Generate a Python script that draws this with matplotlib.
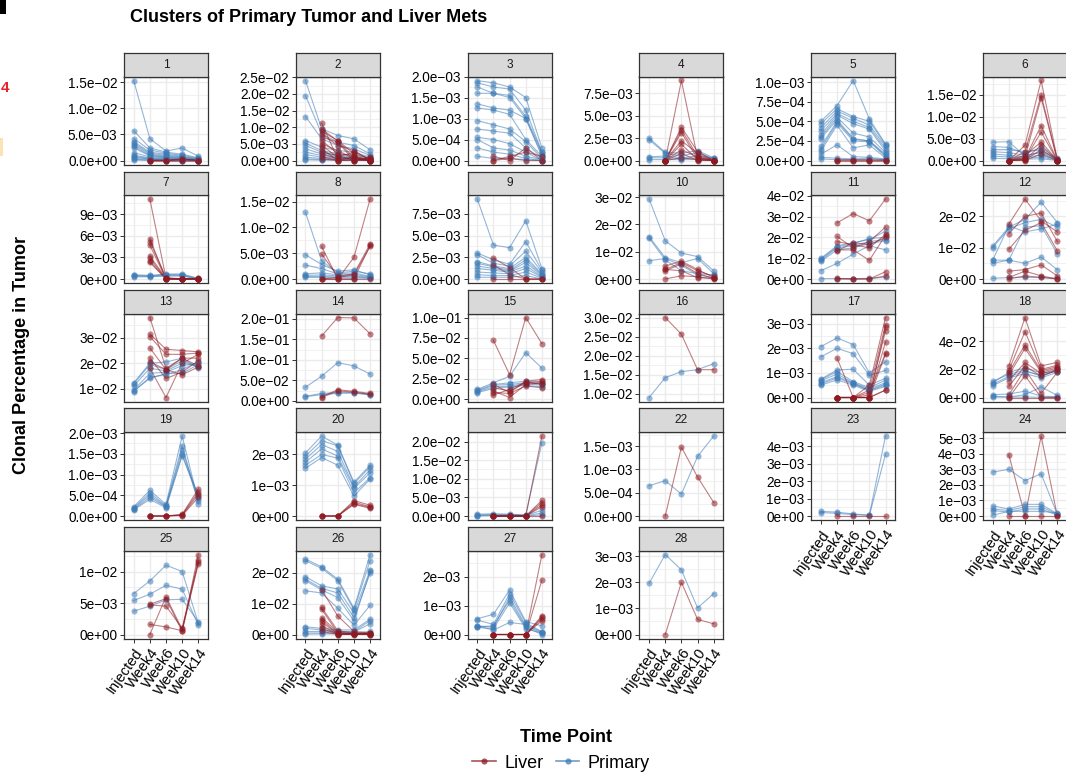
import numpy as np
import matplotlib
matplotlib.use("Agg")
import matplotlib.pyplot as plt
from matplotlib.lines import Line2D
from matplotlib.patches import Rectangle

plt.rcParams["font.family"] = ["Liberation Sans", "DejaVu Sans"]

N = np.nan

time_points = ["Injected", "Week4", "Week6", "Week10", "Week14"]
cluster_ids = [str(i) for i in range(1, 29)]
series_names = ["Liver", "Primary"]

# ---- clone trajectories per cluster (rows = clones, columns = time points) ----
primary_01 = [[0.0153, 0.0042, 0.0018, 0.0024, 0.0008], [0.0057, 0.0024, 0.0016, 0.0012, 0.0005],
              [0.0042, 0.0020, 0.0014, 0.0010, 0.0004], [0.0036, 0.0016, 0.0012, 0.0008, 0.0003],
              [0.0033, 0.0014, 0.0010, 0.0007, 0.0002], [0.0030, 0.0012, 0.0008, 0.0006, 0.0002],
              [0.0027, 0.0010, 0.0007, 0.0005, 0.0001], [0.0024, 0.0009, 0.0006, 0.0004, 0.0001],
              [0.0015, 0.0007, 0.0005, 0.0003, 0.0001], [0.0010, 0.0005, 0.0004, 0.0002, 0.0001],
              [0.0008, 0.0004, 0.0003, 0.0002, 0.0000], [0.0006, 0.0003, 0.0002, 0.0001, 0.0000],
              [0.0004, 0.0002, 0.0001, 0.0001, 0.0000], [0.0002, 0.0001, 0.0001, 0.0000, 0.0000],
              [0.0001, 0.0000, 0.0000, 0.0000, 0.0000]]
liver_01 = [[N, 0.0000, 0.0000, 0.0002, 0.0000], [N, 0.0000, 0.0001, 0.0003, 0.0000],
            [N, 0.0001, 0.0000, 0.0001, 0.0001], [N, 0.0000, 0.0000, 0.0000, 0.0000]]
ticks_01 = [0.0, 0.005, 0.01, 0.015]

primary_02 = [[0.0240, 0.0095, 0.0075, 0.0065, 0.0032], [0.0195, 0.0080, 0.0055, 0.0045, 0.0020],
              [0.0132, 0.0065, 0.0045, 0.0035, 0.0015], [0.0060, 0.0040, 0.0030, 0.0025, 0.0010],
              [0.0052, 0.0030, 0.0020, 0.0015, 0.0008], [0.0045, 0.0025, 0.0015, 0.0010, 0.0005],
              [0.0035, 0.0020, 0.0012, 0.0008, 0.0004], [0.0025, 0.0015, 0.0010, 0.0006, 0.0003],
              [0.0018, 0.0010, 0.0008, 0.0005, 0.0002], [0.0010, 0.0006, 0.0005, 0.0003, 0.0001],
              [0.0005, 0.0003, 0.0002, 0.0002, 0.0001], [0.0002, 0.0001, 0.0001, 0.0001, 0.0000]]
liver_02 = [[N, 0.0112, 0.0005, 0.0010, 0.0002], [N, 0.0095, 0.0058, 0.0008, 0.0000],
            [N, 0.0088, 0.0060, 0.0020, 0.0005], [N, 0.0080, 0.0045, 0.0030, 0.0000],
            [N, 0.0070, 0.0055, 0.0000, 0.0010], [N, 0.0060, 0.0020, 0.0015, 0.0000],
            [N, 0.0050, 0.0030, 0.0005, 0.0002], [N, 0.0045, 0.0010, 0.0025, 0.0005],
            [N, 0.0035, 0.0000, 0.0010, 0.0000], [N, 0.0025, 0.0015, 0.0000, 0.0008],
            [N, 0.0020, 0.0005, 0.0005, 0.0000], [N, 0.0012, 0.0000, 0.0002, 0.0001],
            [N, 0.0005, 0.0000, 0.0000, 0.0000]]
ticks_02 = [0.0, 0.005, 0.01, 0.015, 0.02, 0.025]

primary_03 = [[0.00190, 0.00185, 0.00175, 0.00150, 0.00030], [0.00185, 0.00175, 0.00170, 0.00120, 0.00020],
              [0.00175, 0.00160, 0.00150, 0.00100, 0.00010], [0.00160, 0.00160, 0.00155, 0.00105, 0.00020],
              [0.00135, 0.00125, 0.00120, 0.00100, 0.00015], [0.00125, 0.00120, 0.00110, 0.00050, 0.00010],
              [0.00095, 0.00085, 0.00075, 0.00045, 0.00005], [0.00075, 0.00070, 0.00065, 0.00030, 0.00005],
              [0.00055, 0.00050, 0.00040, 0.00020, 0.00000], [0.00050, 0.00030, 0.00025, 0.00010, 0.00002],
              [0.00030, 0.00020, 0.00015, 0.00005, 0.00000], [0.00010, 0.00005, 0.00005, 0.00002, 0.00000]]
liver_03 = [[N, 0.0000, 0.0001, 0.0002, 0.0001], [N, 0.0000, 0.00005, 0.0000, 0.0000],
            [N, 0.0001, 0.0000, 0.0003, 0.0000]]
ticks_03 = [0.0, 0.0005, 0.001, 0.0015, 0.002]

primary_04 = [[0.0025, 0.0009, 0.0008, 0.0011, 0.0003], [0.0023, 0.0008, 0.0005, 0.0009, 0.0002],
              [0.0004, 0.0005, 0.0003, 0.0005, 0.0003], [0.0003, 0.0003, 0.0002, 0.0003, 0.0001],
              [0.0001, 0.0001, 0.0001, 0.0001, 0.0000]]
liver_04 = [[N, 0.0, 0.0089, 0.0003, 0.0], [N, 0.0, 0.0037, 0.0010, 0.0], [N, 0.0, 0.0034, 0.0005, 0.0001],
            [N, 0.0, 0.0031, 0.0002, 0.0], [N, 0.0, 0.0022, 0.0008, 0.0], [N, 0.0, 0.0018, 0.0001, 0.0],
            [N, 0.0, 0.0012, 0.0004, 0.0], [N, 0.0, 0.0008, 0.0000, 0.0], [N, 0.0, 0.0003, 0.0001, 0.0]]
ticks_04 = [0.0, 0.0025, 0.005, 0.0075]

primary_05 = [[0.00050, 0.00070, 0.00102, 0.00053, 0.00021], [0.00047, 0.00066, 0.00056, 0.00050, 0.00020],
              [0.00042, 0.00063, 0.00054, 0.00045, 0.00018], [0.00038, 0.00060, 0.00050, 0.00042, 0.00015],
              [0.00033, 0.00058, 0.00047, 0.00040, 0.00012], [0.00030, 0.00055, 0.00035, 0.00030, 0.00010],
              [0.00028, 0.00052, 0.00028, 0.00025, 0.00008], [0.00018, 0.00050, 0.00027, 0.00025, 0.00006],
              [0.00015, 0.00048, 0.00025, 0.00024, 0.00005], [0.00012, 0.00045, 0.00016, 0.00020, 0.00003],
              [0.00008, 0.00020, 0.00005, 0.00004, 0.00002], [0.00004, 0.00003, 0.00002, 0.00003, 0.00001],
              [0.00002, 0.00001, 0.00001, 0.00001, 0.00000]]
liver_05 = [[N, 0.0, 0.0, 0.0, 0.0], [N, 0.00001, 0.0, 0.00001, 0.0], [N, 0.0, 0.00001, 0.0, 0.00001]]
ticks_05 = [0.0, 0.00025, 0.0005, 0.00075, 0.001]

primary_06 = [[0.0042, 0.0043, 0.0010, 0.0020, 0.0005], [0.0032, 0.0030, 0.0015, 0.0030, 0.0003],
              [0.0025, 0.0025, 0.0020, 0.0025, 0.0002], [0.0020, 0.0018, 0.0012, 0.0018, 0.0001],
              [0.0015, 0.0012, 0.0008, 0.0012, 0.0001], [0.0010, 0.0008, 0.0005, 0.0008, 0.0000],
              [0.0005, 0.0004, 0.0003, 0.0004, 0.0000]]
liver_06 = [[N, 0.0, 0.0035, 0.0183, 0.0003], [N, 0.0, 0.0020, 0.0150, 0.0002], [N, 0.0, 0.0008, 0.0143, 0.0001],
            [N, 0.0, 0.0005, 0.0080, 0.0], [N, 0.0, 0.0003, 0.0065, 0.0], [N, 0.0, 0.0012, 0.0042, 0.0001],
            [N, 0.0, 0.0002, 0.0035, 0.0], [N, 0.0, 0.0001, 0.0025, 0.0], [N, 0.0, 0.0, 0.0015, 0.0]]
ticks_06 = [0.0, 0.005, 0.01, 0.015]

primary_07 = [[0.0006, 0.0005, 0.0007, 0.0007, 0.0001], [0.0005, 0.0004, 0.0006, 0.0006, 0.0000],
              [0.0004, 0.0004, 0.0005, 0.0005, 0.0000], [0.0003, 0.0003, 0.0004, 0.0004, 0.0000]]
liver_07 = [[N, 0.0111, 0.0001, 0.0, 0.0], [N, 0.0056, 0.0, 0.0, 0.0], [N, 0.0052, 0.0002, 0.0, 0.0001],
            [N, 0.0047, 0.0, 0.0, 0.0], [N, 0.0032, 0.0001, 0.0, 0.0], [N, 0.0029, 0.0, 0.0, 0.0],
            [N, 0.0025, 0.0, 0.0, 0.0], [N, 0.0023, 0.0, 0.0, 0.0]]
ticks_07 = [0.0, 0.003, 0.006, 0.009]

primary_08 = [[0.0129, 0.0035, 0.0012, 0.0015, 0.0010], [0.0047, 0.0028, 0.0015, 0.0018, 0.0008],
              [0.0027, 0.0020, 0.0010, 0.0012, 0.0005], [0.0010, 0.0012, 0.0008, 0.0009, 0.0004],
              [0.0007, 0.0008, 0.0006, 0.0006, 0.0003], [0.0005, 0.0005, 0.0004, 0.0004, 0.0002],
              [0.0003, 0.0003, 0.0002, 0.0002, 0.0001]]
liver_08 = [[N, 0.0063, 0.0000, 0.0042, 0.0155], [N, 0.0048, 0.0005, 0.0010, 0.0068],
            [N, 0.0000, 0.0003, 0.0008, 0.0063], [N, 0.0, 0.0, 0.0, 0.0065], [N, 0.0, 0.0, 0.0, 0.0]]
ticks_08 = [0.0, 0.005, 0.01, 0.015]

primary_09 = [[0.0092, 0.0039, 0.0036, 0.0067, 0.0012], [0.0030, 0.0022, 0.0017, 0.0043, 0.0010],
              [0.0028, 0.0018, 0.0015, 0.0032, 0.0008], [0.0020, 0.0015, 0.0012, 0.0025, 0.0006],
              [0.0018, 0.0014, 0.0010, 0.0022, 0.0005], [0.0015, 0.0012, 0.0009, 0.0019, 0.0004],
              [0.0012, 0.0010, 0.0008, 0.0015, 0.0003], [0.0008, 0.0007, 0.0006, 0.0012, 0.0002],
              [0.0005, 0.0004, 0.0004, 0.0008, 0.0001], [0.0002, 0.0002, 0.0002, 0.0004, 0.0000]]
liver_09 = [[N, 0.0024, 0.0013, 0.0000, 0.0], [N, 0.0016, 0.0005, 0.0, 0.0], [N, 0.0, 0.0, 0.0, 0.0]]
ticks_09 = [0.0, 0.0025, 0.005, 0.0075]

primary_10 = [[0.0293, 0.0140, 0.0095, 0.0082, 0.0030], [0.0155, 0.0078, 0.0060, 0.0075, 0.0020],
              [0.0150, 0.0070, 0.0030, 0.0020, 0.0015], [0.0067, 0.0075, 0.0050, 0.0015, 0.0005]]
liver_10 = [[N, 0.0048, 0.0065, 0.0035, 0.0005], [N, 0.0035, 0.0060, 0.0030, 0.0010],
            [N, 0.0030, 0.0055, 0.0020, 0.0002], [N, 0.0000, 0.0012, 0.0008, 0.0000],
            [N, 0.0035, 0.0030, 0.0005, 0.0003]]
ticks_10 = [0.0, 0.01, 0.02, 0.03]

primary_11 = [[0.0100, 0.0160, 0.0175, 0.0190, 0.0230], [0.0095, 0.0155, 0.0170, 0.0195, 0.0200],
              [0.0090, 0.0150, 0.0160, 0.0180, 0.0190], [0.0085, 0.0140, 0.0150, 0.0170, 0.0185],
              [0.0040, 0.0075, 0.0120, 0.0160, 0.0140], [0.0002, 0.0002, 0.0002, 0.0003, 0.0008]]
liver_11 = [[N, 0.0270, 0.0315, 0.0280, 0.0385], [N, 0.0205, 0.0150, 0.0180, 0.0250],
            [N, 0.0180, 0.0165, 0.0150, 0.0215], [N, 0.0140, 0.0140, 0.0090, 0.0210],
            [N, 0.0135, 0.0175, 0.0165, 0.0200], [N, 0.0000, 0.0000, 0.0000, 0.0035],
            [N, 0.0003, 0.0000, 0.0000, 0.0015]]
ticks_11 = [0.0, 0.01, 0.02, 0.03, 0.04]

primary_12 = [[0.0105, 0.0165, 0.0190, 0.0245, 0.0180], [0.0100, 0.0160, 0.0180, 0.0190, 0.0165],
              [0.0060, 0.0170, 0.0150, 0.0160, 0.0175], [0.0050, 0.0060, 0.0050, 0.0070, 0.0030],
              [0.0060, 0.0060, 0.0165, 0.0170, 0.0080], [0.0002, 0.0005, 0.0005, 0.0005, 0.0002]]
liver_12 = [[N, 0.0175, 0.0255, 0.0185, 0.0150], [N, 0.0145, 0.0200, 0.0210, 0.0120],
            [N, 0.0095, 0.0155, 0.0180, 0.0090], [N, 0.0025, 0.0030, 0.0045, 0.0010],
            [N, 0.0005, 0.0025, 0.0010, 0.0000], [N, 0.0000, 0.0010, 0.0005, 0.0000]]
ticks_12 = [0.0, 0.01, 0.02]

primary_13 = [[0.0123, 0.0200, 0.0205, 0.0220, 0.0180], [0.0118, 0.0195, 0.0175, 0.0210, 0.0185],
              [0.0110, 0.0180, 0.0170, 0.0200, 0.0190], [0.0095, 0.0160, 0.0165, 0.0190, 0.0200],
              [0.0088, 0.0145, 0.0155, 0.0175, 0.0205], [0.0092, 0.0140, 0.0160, 0.0160, 0.0195]]
liver_13 = [[N, 0.0380, 0.0180, 0.0220, 0.0190], [N, 0.0315, 0.0255, 0.0250, 0.0245],
            [N, 0.0305, 0.0235, 0.0235, 0.0240], [N, 0.0260, 0.0175, 0.0220, 0.0220],
            [N, 0.0220, 0.0140, 0.0165, 0.0210], [N, 0.0180, 0.0065, 0.0200, 0.0235],
            [N, 0.0205, 0.0175, 0.0155, 0.0185]]
ticks_13 = [0.01, 0.02, 0.03]

primary_14 = [[0.033, 0.060, 0.093, 0.085, 0.065], [0.011, 0.018, 0.020, 0.020, 0.015],
              [0.010, 0.015, 0.018, 0.019, 0.014]]
liver_14 = [[N, 0.158, 0.203, 0.202, 0.163], [N, 0.010, 0.027, 0.023, 0.018], [N, 0.008, 0.024, 0.021, 0.016]]
ticks_14 = [0.0, 0.05, 0.1, 0.15, 0.2]

primary_15 = [[0.012, 0.020, 0.028, 0.057, 0.038], [0.011, 0.018, 0.020, 0.022, 0.020],
              [0.010, 0.017, 0.018, 0.020, 0.019], [0.009, 0.015, 0.016, 0.019, 0.017],
              [0.008, 0.013, 0.015, 0.017, 0.015]]
liver_15 = [[N, 0.072, 0.030, 0.100, 0.068], [N, 0.018, 0.008, 0.022, 0.024], [N, 0.014, 0.010, 0.020, 0.022],
            [N, 0.010, 0.002, 0.018, 0.020], [N, 0.008, 0.007, 0.016, 0.014], [N, 0.005, 0.012, 0.021, 0.018]]
ticks_15 = [0.0, 0.025, 0.05, 0.075, 0.1]

primary_16 = [[0.0090, 0.0142, 0.0158, 0.0163, 0.0179]]
liver_16 = [[N, 0.0300, 0.0256, 0.0163, 0.0163]]
ticks_16 = [0.01, 0.015, 0.02, 0.025, 0.03]

primary_17 = [[0.00207, 0.00242, 0.00215, 0.00100, 0.00145], [0.00165, 0.00200, 0.00178, 0.00090, 0.00110],
              [0.00075, 0.00112, 0.00115, 0.00050, 0.00078], [0.00072, 0.00105, 0.00065, 0.00040, 0.00070],
              [0.00068, 0.00095, 0.00060, 0.00035, 0.00060], [0.00060, 0.00085, 0.00058, 0.00030, 0.00055],
              [0.00055, 0.00080, 0.00055, 0.00028, 0.00050], [0.00050, 0.00072, 0.00050, 0.00025, 0.00045]]
liver_17 = [[N, 0.00160, 0.0, 0.0, 0.00030], [N, 0.0, 0.0, 0.00050, 0.00325], [N, 0.0, 0.0, 0.00030, 0.00295],
            [N, 0.0, 0.0, 0.0, 0.00285], [N, 0.0, 0.0, 0.00010, 0.00270], [N, 0.0, 0.0, 0.0, 0.00225],
            [N, 0.0, 0.0, 0.00020, 0.00180], [N, 0.0, 0.0, 0.0, 0.00175], [N, 0.0, 0.0, 0.0, 0.00030]]
ticks_17 = [0.0, 0.001, 0.002, 0.003]

primary_18 = [[0.0115, 0.0165, 0.0195, 0.0150, 0.0200], [0.0105, 0.0180, 0.0210, 0.0175, 0.0185],
              [0.0095, 0.0150, 0.0185, 0.0160, 0.0190], [0.0085, 0.0140, 0.0170, 0.0140, 0.0180],
              [0.0020, 0.0025, 0.0045, 0.0010, 0.0005], [0.0003, 0.0003, 0.0003, 0.0002, 0.0002],
              [0.0010, 0.0003, 0.0020, 0.0075, 0.0015]]
liver_18 = [[N, 0.0225, 0.0570, 0.0225, 0.0250], [N, 0.0195, 0.0470, 0.0200, 0.0230],
            [N, 0.0180, 0.0375, 0.0190, 0.0220], [N, 0.0160, 0.0350, 0.0180, 0.0210],
            [N, 0.0120, 0.0250, 0.0170, 0.0200], [N, 0.0080, 0.0225, 0.0150, 0.0195],
            [N, 0.0020, 0.0200, 0.0030, 0.0180], [N, 0.0000, 0.0155, 0.0000, 0.0000],
            [N, 0.0000, 0.0000, 0.0000, 0.0000]]
ticks_18 = [0.0, 0.02, 0.04]

primary_19 = [[0.00022, 0.00062, 0.00028, 0.00193, 0.00035], [0.00020, 0.00055, 0.00025, 0.00170, 0.00030],
              [0.00018, 0.00050, 0.00023, 0.00160, 0.00045], [0.00016, 0.00045, 0.00022, 0.00150, 0.00040],
              [0.00015, 0.00040, 0.00020, 0.00145, 0.00050]]
liver_19 = [[N, 0.0, 0.0, 0.00004, 0.00065], [N, 0.0, 0.0, 0.00003, 0.00058],
            [N, 0.0, 0.0, 0.00002, 0.00052], [N, 0.0, 0.0, 0.00001, 0.00045]]
ticks_19 = [0.0, 0.0005, 0.001, 0.0015, 0.002]

primary_20 = [[0.00205, 0.00260, 0.00230, 0.00110, 0.00165], [0.00195, 0.00245, 0.00228, 0.00105, 0.00160],
              [0.00185, 0.00232, 0.00210, 0.00095, 0.00150], [0.00175, 0.00218, 0.00195, 0.00090, 0.00140],
              [0.00165, 0.00200, 0.00188, 0.00075, 0.00125], [0.00155, 0.00190, 0.00165, 0.00065, 0.00120]]
liver_20 = [[N, 0.0, 0.0, 0.00050, 0.00035], [N, 0.0, 0.0, 0.00045, 0.00030],
            [N, 0.0, 0.0, 0.00040, 0.00028], [N, 0.0, 0.0, 0.00038, 0.00025]]
ticks_20 = [0.0, 0.001, 0.002]

primary_21 = [[0.0005, 0.0006, 0.0005, 0.0003, 0.0197], [0.0003, 0.0004, 0.0004, 0.0002, 0.0015],
              [0.0001, 0.0002, 0.0002, 0.0001, 0.0008], [0.0000, 0.0001, 0.0001, 0.0000, 0.0003]]
liver_21 = [[N, 0.0, 0.0, 0.0, 0.0215], [N, 0.0, 0.0, 0.0, 0.0042], [N, 0.0, 0.0, 0.0, 0.0036],
            [N, 0.0, 0.0, 0.0, 0.0030], [N, 0.0, 0.0, 0.0, 0.0025], [N, 0.0, 0.0, 0.0, 0.0000]]
ticks_21 = [0.0, 0.005, 0.01, 0.015, 0.02]

primary_22 = [[0.00065, 0.00076, 0.00047, 0.00128, 0.00172]]
liver_22 = [[N, 0.0, 0.00148, 0.00084, 0.00029]]
ticks_22 = [0.0, 0.0005, 0.001, 0.0015]

primary_23 = [[0.00027, 0.00022, 0.00012, 0.00005, 0.00460], [0.00020, 0.00015, 0.00008, 0.00003, 0.00355]]
liver_23 = [[N, 0.0, 0.0, 0.0, 0.0]]
ticks_23 = [0.0, 0.001, 0.002, 0.003, 0.004]

primary_24 = [[0.00283, 0.00300, 0.00228, 0.00272, 0.00010], [0.00065, 0.00045, 0.00075, 0.00075, 0.00015],
              [0.00045, 0.00035, 0.00060, 0.00060, 0.00010], [0.00035, 0.00025, 0.00045, 0.00045, 0.00005],
              [0.00005, 0.00030, 0.00030, 0.00030, 0.00020]]
liver_24 = [[N, 0.00395, 0.0, 0.00515, 0.0], [N, 0.0, 0.0, 0.0, 0.0]]
ticks_24 = [0.0, 0.001, 0.002, 0.003, 0.004, 0.005]

primary_25 = [[0.0065, 0.0085, 0.0110, 0.0100, 0.0018], [0.0054, 0.0064, 0.0078, 0.0072, 0.0015],
              [0.0037, 0.0045, 0.0055, 0.0056, 0.0020]]
liver_25 = [[N, 0.0048, 0.0057, 0.0005, 0.0127], [N, 0.0047, 0.0045, 0.0010, 0.0118],
            [N, 0.0016, 0.0012, 0.0006, 0.0112], [N, 0.0000, 0.0060, 0.0008, 0.0115]]
ticks_25 = [0.0, 0.005, 0.01]

primary_26 = [[0.0245, 0.0220, 0.0180, 0.0085, 0.0260], [0.0240, 0.0215, 0.0175, 0.0080, 0.0240],
              [0.0188, 0.0158, 0.0148, 0.0070, 0.0210], [0.0180, 0.0150, 0.0135, 0.0055, 0.0200],
              [0.0175, 0.0145, 0.0120, 0.0045, 0.0205], [0.0142, 0.0135, 0.0085, 0.0030, 0.0095],
              [0.0025, 0.0020, 0.0015, 0.0015, 0.0050], [0.0020, 0.0015, 0.0010, 0.0010, 0.0045],
              [0.0010, 0.0010, 0.0008, 0.0008, 0.0035], [0.0005, 0.0005, 0.0005, 0.0005, 0.0010],
              [0.0001, 0.0002, 0.0002, 0.0002, 0.0005]]
liver_26 = [[N, 0.0145, 0.0060, 0.0010, 0.0005], [N, 0.0088, 0.0012, 0.0005, 0.0005],
            [N, 0.0082, 0.0005, 0.0002, 0.0003], [N, 0.0055, 0.0008, 0.0003, 0.0002],
            [N, 0.0048, 0.0003, 0.0001, 0.0001], [N, 0.0040, 0.0002, 0.0002, 0.0003],
            [N, 0.0030, 0.0000, 0.0000, 0.0000], [N, 0.0020, 0.0001, 0.0003, 0.0001],
            [N, 0.0010, 0.0000, 0.0001, 0.0000]]
ticks_26 = [0.0, 0.01, 0.02]

primary_27 = [[0.00055, 0.00070, 0.00155, 0.00045, 0.00030], [0.00050, 0.00035, 0.00142, 0.00040, 0.00010],
              [0.00030, 0.00025, 0.00130, 0.00030, 0.00005], [0.00027, 0.00030, 0.00120, 0.00025, 0.00000],
              [0.00025, 0.00020, 0.00110, 0.00020, 0.00005], [0.00030, 0.00015, 0.00042, 0.00035, 0.00008]]
liver_27 = [[N, 0.0, 0.0, 0.0, 0.00278], [N, 0.0, 0.0, 0.0, 0.00189], [N, 0.0, 0.0, 0.0, 0.00065],
            [N, 0.0, 0.0, 0.0, 0.00060], [N, 0.0, 0.0, 0.0, 0.00055], [N, 0.0, 0.0, 0.0, 0.00048]]
ticks_27 = [0.0, 0.001, 0.002]

primary_28 = [[0.00196, 0.00307, 0.00248, 0.00102, 0.00157]]
liver_28 = [[N, 0.0, 0.00200, 0.00058, 0.00041]]
ticks_28 = [0.0, 0.001, 0.002, 0.003]

panels = [
    (primary_01, liver_01, ticks_01), (primary_02, liver_02, ticks_02), (primary_03, liver_03, ticks_03),
    (primary_04, liver_04, ticks_04), (primary_05, liver_05, ticks_05), (primary_06, liver_06, ticks_06),
    (primary_07, liver_07, ticks_07), (primary_08, liver_08, ticks_08), (primary_09, liver_09, ticks_09),
    (primary_10, liver_10, ticks_10), (primary_11, liver_11, ticks_11), (primary_12, liver_12, ticks_12),
    (primary_13, liver_13, ticks_13), (primary_14, liver_14, ticks_14), (primary_15, liver_15, ticks_15),
    (primary_16, liver_16, ticks_16), (primary_17, liver_17, ticks_17), (primary_18, liver_18, ticks_18),
    (primary_19, liver_19, ticks_19), (primary_20, liver_20, ticks_20), (primary_21, liver_21, ticks_21),
    (primary_22, liver_22, ticks_22), (primary_23, liver_23, ticks_23), (primary_24, liver_24, ticks_24),
    (primary_25, liver_25, ticks_25), (primary_26, liver_26, ticks_26), (primary_27, liver_27, ticks_27),
    (primary_28, liver_28, ticks_28),
]

# ---- styling ----
LIVER = "#8E1A22"
PRIMARY = "#3E7CB8"
ALPHA = 0.55
BORDER = "#333333"
GRID = "#EBEBEB"
STRIP_FILL = "#D9D9D9"

W, H = 1066, 775
fig = plt.figure(figsize=(W / 100, H / 100), dpi=100)
fig.patch.set_facecolor("white")


def sci_labels(vals):
    """Scientific labels with just enough digits to keep breaks distinct."""
    scale = max(abs(v) for v in vals) or 1.0
    for d in range(0, 4):
        labs = [f"{v:.{d}e}" for v in vals]
        if all(abs(float(l) - v) <= 1e-9 * scale for l, v in zip(labs, vals)):
            break
    return [l.replace("-", "\u2212") for l in labs]


def fx(px):
    return px / W


def fy(py):
    return 1 - py / H


n_cols = 6
col_left0, col_pitch, panel_w = 124, 171.8, 84
row_top0, row_pitch = 53, 118.5
strip_h, plot_h = 23.5, 88.0
x = np.arange(len(time_points))

n_panels = len(panels)
for i, (prim, liv, ticks) in enumerate(panels):
    r, c = divmod(i, n_cols)
    left = col_left0 + c * col_pitch
    top = row_top0 + r * row_pitch
    ax = fig.add_axes([fx(left), fy(top + strip_h + plot_h), panel_w / W, plot_h / H])
    sax = fig.add_axes([fx(left), fy(top + strip_h), panel_w / W, strip_h / H])

    # strip
    sax.set_xticks([]); sax.set_yticks([])
    sax.set_facecolor(STRIP_FILL)
    for s in sax.spines.values():
        s.set_color(BORDER); s.set_linewidth(0.9)
    sax.text(0.5, 0.5, cluster_ids[i], ha="center", va="center", fontsize=8.6, color="#1A1A1A",
             transform=sax.transAxes)

    allv = np.array(prim + liv, dtype=float)
    lo, hi = np.nanmin(allv), np.nanmax(allv)
    pad = (hi - lo) * 0.05
    ymin, ymax = lo - pad, hi + pad
    ax.set_ylim(ymin, ymax)
    ax.set_xlim(-0.6, len(time_points) - 0.4)

    # grid: majors at breaks, minors halfway
    step = ticks[1] - ticks[0]
    minors = [t + step / 2 for t in ticks] + [ticks[0] - step / 2]
    for m in minors:
        if ymin < m < ymax:
            ax.axhline(m, color=GRID, lw=0.5, zorder=0)
    for t in ticks:
        ax.axhline(t, color=GRID, lw=1.0, zorder=0)
    for xv in x:
        ax.axvline(xv, color=GRID, lw=1.0, zorder=0)

    for series, col in ((prim, PRIMARY), (liv, LIVER)):
        for clone in series:
            ax.plot(x, clone, color=col, alpha=ALPHA, lw=0.8, zorder=2)
    for series, col in ((prim, PRIMARY), (liv, LIVER)):
        for clone in series:
            ax.plot(x, clone, ls="none", marker="o", ms=4.4, mew=0, color=col, alpha=ALPHA, zorder=3)

    ax.set_yticks(ticks)
    ax.set_yticklabels(sci_labels(ticks))
    ax.tick_params(axis="y", length=3.2, width=0.7, color=BORDER, labelsize=9.8, labelcolor="black", pad=1.5)
    for s in ax.spines.values():
        s.set_color(BORDER); s.set_linewidth(0.9)

    # x axis only on the lowest panel of each column
    ax.set_xticks(x)
    if i + n_cols >= n_panels:
        ax.set_xticklabels(time_points, rotation=55, ha="right", va="top", rotation_mode="anchor")
        ax.tick_params(axis="x", length=3.2, width=0.7, color=BORDER, labelsize=10.5,
                       labelcolor="black", pad=2)
    else:
        ax.tick_params(axis="x", length=0, labelbottom=False)

# titles
fig.text(fx(130), fy(17), "Clusters of Primary Tumor and Liver Mets", fontsize=13, fontweight="bold",
         ha="left", va="center")
fig.text(fx(22), fy(355), "Clonal Percentage in Tumor", fontsize=13, fontweight="bold",
         rotation=90, ha="center", va="center")
fig.text(fx(566), fy(737), "Time Point", fontsize=13, fontweight="bold", ha="center", va="center")

handles = [Line2D([0], [0], color=LIVER, alpha=0.75, lw=1.2, marker="o", ms=4.4, mew=0),
           Line2D([0], [0], color=PRIMARY, alpha=0.75, lw=1.2, marker="o", ms=4.4, mew=0)]
fig.legend(handles, series_names, loc="center", bbox_to_anchor=(fx(561), fy(763)), ncol=2,
           frameon=False, fontsize=13, handlelength=1.3, handletextpad=0.45, columnspacing=0.7,
           borderaxespad=0, borderpad=0)

# pieces of neighbouring figure content along the left edge
fig.text(fx(0.5), fy(88), "4", fontsize=11, fontweight="bold", color="#E8232A", ha="left", va="center")
fig.patches.append(Rectangle((0, fy(14)), fx(6), 14 / H, transform=fig.transFigure,
                             color="black", lw=0))
fig.patches.append(Rectangle((0, fy(156)), fx(3), 18 / H, transform=fig.transFigure,
                             color="#FBE3B5", lw=0))

fig.savefig("out.png", dpi=100)
